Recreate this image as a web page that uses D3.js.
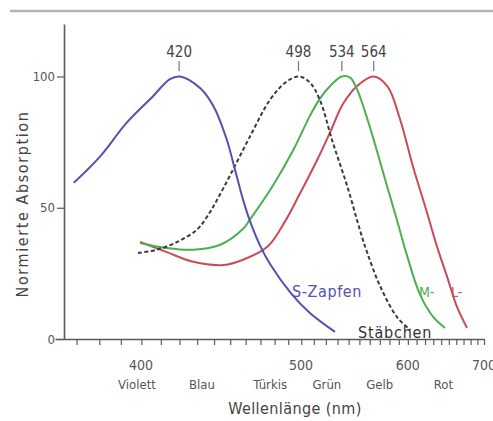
<!DOCTYPE html>
<html><head><meta charset="utf-8">
<script src="https://cdn.jsdelivr.net/npm/d3@7/dist/d3.min.js"></script>
<style>
body{margin:0;background:#fff;}
svg{display:block;}
text{font-family:"DejaVu Sans Condensed","DejaVu Sans",sans-serif;}
</style></head>
<body><svg id="c" width="493" height="421"></svg>
<script>
// Data (wavelength in nm, normalized absorption in %)
const sWl  = [369, 380.5, 393, 406, 415, 420.5, 432, 440, 448, 453, 458.5, 463, 470, 477, 492, 507, 528];
const sAbs = [59.5, 69.5, 82.4, 92.4, 99, 100, 95.5, 88.5, 76, 65, 53, 45, 35.5, 28.5, 17.6, 9.9, 2.7];
const rodWl  = [398.5, 408, 419, 430, 436, 442, 451, 463, 477, 489, 498.5, 507, 515, 526, 539, 551, 557.5, 570, 588, 603];
const rodAbs = [32.8, 34, 37, 41.6, 46.6, 53, 63.4, 77.1, 91.2, 98.1, 100, 97.7, 91.2, 75, 58, 41, 33, 20.5, 8.4, 3.4];
const mWl  = [399.5, 413, 428, 444, 458.5, 463, 479, 494, 507, 515, 524, 534, 541.5, 548, 560, 573.5, 588, 599, 614, 630, 645];
const mAbs = [36.6, 34.7, 34.0, 35.9, 42, 45.5, 58.5, 72, 85, 91.5, 96.5, 100, 99.6, 95, 81, 63.4, 45.4, 32, 17, 8.4, 4.2];
const lWl  = [399.5, 413, 428, 446, 458.5, 475, 488, 499, 513, 524, 535, 548, 564, 578, 591.5, 606, 622.5, 635, 648, 661, 675];
const lAbs = [37, 33.2, 29.4, 28.2, 30.2, 35.1, 45, 55.3, 68.3, 79, 89.5, 96.4, 100, 96.2, 83.6, 65.6, 48.1, 35, 23.5, 12.2, 4.2];
const peaks = [420, 498, 534, 564];
const yTicks = [0, 50, 100];
const xMinor = d3.range(370, 701, 10);
const xMajor = [400, 500, 600, 700];
const colorNames = ["Violett", "Blau", "Türkis", "Grün", "Gelb", "Rot"];
const colorNameWl = [398, 433, 477, 521, 570, 643];

const svg = d3.select("#c");
// wavenumber-like axis: position linear in 1/λ
const inv = d3.scaleLinear().domain([1/400, 1/700]).range([141, 484]);
const x = wl => inv(1/wl);
const y = d3.scaleLinear().domain([0, 120]).range([339, 24]);

// top rule
svg.append("line").attr("x1", 10).attr("x2", 493).attr("y1", 11).attr("y2", 11)
  .attr("stroke", "#b5b5b5").attr("stroke-width", 2.5);

const axisColor = "#5a5a5a";
// X axis
const xAxisScale = inv.copy().domain([1/361, 1/700]).range([55, 484]);
const xAxis = svg.append("g").attr("transform", "translate(0,339)")
  .call(d3.axisBottom(xAxisScale).tickValues(xMinor.map(v => 1/v)).tickFormat("").tickSize(6).tickSizeOuter(0));
xAxis.select(".domain").attr("stroke", axisColor).attr("stroke-width", 1.6);
xAxis.selectAll(".tick line").attr("stroke", axisColor).attr("stroke-width", 1.2);

// Y axis
const yAxis = svg.append("g").attr("transform", "translate(64,0)")
  .call(d3.axisLeft(y).tickValues(yTicks).tickSize(7).tickSizeOuter(0).tickPadding(2));
yAxis.select(".domain").attr("stroke", axisColor).attr("stroke-width", 1.6);
yAxis.selectAll(".tick line").attr("stroke", axisColor).attr("stroke-width", 1.2);
yAxis.selectAll(".tick text").attr("font-size", 13).attr("fill", "#555")
  .attr("font-family", '"DejaVu Sans Condensed","DejaVu Sans",sans-serif');

// x major labels
svg.append("g").selectAll("text").data(xMajor).join("text")
  .attr("x", d => x(d)).attr("y", 370).attr("text-anchor", "middle")
  .attr("font-size", 14).attr("fill", "#555").text(d => d);
svg.append("g").selectAll("text").data(colorNames).join("text")
  .attr("x", (d, i) => x(colorNameWl[i])).attr("y", 389).attr("text-anchor", "middle")
  .attr("font-size", 13).attr("fill", "#555").text(d => d);
svg.append("text").attr("x", 295).attr("y", 414).attr("text-anchor", "middle")
  .attr("font-size", 16).attr("fill", "#444").attr("letter-spacing", 0.4).text("Wellenlänge (nm)");
svg.append("text").attr("transform", "translate(28,204) rotate(-90)").attr("text-anchor", "middle")
  .attr("font-size", 16).attr("fill", "#444").attr("letter-spacing", 1.6).text("Normierte Absorption");

// peak markers
const pk = svg.append("g");
pk.selectAll("line").data(peaks).join("line")
  .attr("x1", d => x(d)).attr("x2", d => x(d)).attr("y1", 61).attr("y2", 71)
  .attr("stroke", "#777").attr("stroke-width", 1.2);
pk.selectAll("text").data(peaks).join("text")
  .attr("x", d => x(d)).attr("y", 57).attr("text-anchor", "middle")
  .attr("font-size", 15).attr("fill", "#444").text(d => d);

// curves
const line = d3.line().x(d => x(d[0])).y(d => y(d[1])).curve(d3.curveCatmullRom.alpha(0.5));
const zip = (a, b) => a.map((v, i) => [v, b[i]]);
const series = [
  {wl: lWl, v: lAbs, color: "#cc4a55", dash: null},
  {wl: mWl, v: mAbs, color: "#4caf50", dash: null},
  {wl: rodWl, v: rodAbs, color: "#3a3a3a", dash: "4,2.5"},
  {wl: sWl, v: sAbs, color: "#5551b0", dash: null}
];
svg.append("g").selectAll("path").data(series).join("path")
  .attr("d", d => line(zip(d.wl, d.v)))
  .attr("fill", "none").attr("stroke", d => d.color).attr("stroke-width", 2)
  .attr("stroke-dasharray", d => d.dash);

// series labels
svg.append("text").attr("x", 292).attr("y", 297).attr("font-size", 16).attr("letter-spacing", 0.6).attr("fill", "#5551b0").text("S-Zapfen");
svg.append("text").attr("x", 358).attr("y", 338).attr("font-size", 16).attr("letter-spacing", 0.8).attr("fill", "#333").text("Stäbchen");
svg.append("text").attr("x", 419).attr("y", 297).attr("font-size", 14).attr("fill", "#4caf50").text("M-");
svg.append("text").attr("x", 451).attr("y", 297).attr("font-size", 14).attr("fill", "#cc4a55").text("L-");
</script></body></html>
